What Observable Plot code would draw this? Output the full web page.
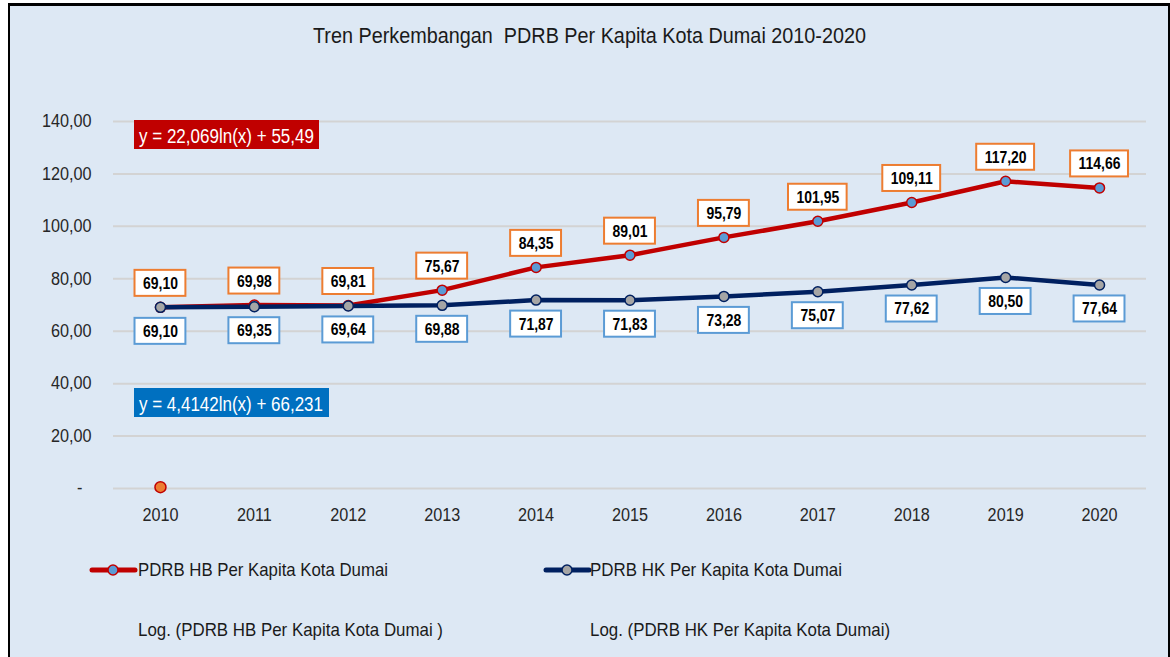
<!DOCTYPE html>
<html>
<head>
<meta charset="utf-8">
<script src="https://cdn.jsdelivr.net/npm/d3@7"></script>
<script src="https://cdn.jsdelivr.net/npm/@observablehq/plot@0.6"></script>
<style>
  html, body { margin: 0; padding: 0; background: #fff; }
  #wrap { position: relative; width: 1170px; height: 657px; overflow: hidden; background: #fff; }
  #panel { position: absolute; left: 8px; top: 3px; width: 1162px; height: 654px; box-sizing: border-box;
           border-left: 2px solid #000; border-top: 3px solid #000; border-right: 2px solid #000; background: #dde8f4; }
  #chart { position: absolute; left: 0; top: 0; }
  #overlay { position: absolute; left: 0; top: 0; font-family: "Liberation Sans", Arial, sans-serif; }
</style>
</head>
<body>
<div id="wrap">
  <div id="panel"></div>
  <div id="chart"></div>
  <svg id="overlay" width="1170" height="657"></svg>
</div>
<script>
// ---- data ----
const years = [2010, 2011, 2012, 2013, 2014, 2015, 2016, 2017, 2018, 2019, 2020];
const pdrbHB = [69.10, 69.98, 69.81, 75.67, 84.35, 89.01, 95.79, 101.95, 109.11, 117.20, 114.66];
const pdrbHK = [69.10, 69.35, 69.64, 69.88, 71.87, 71.83, 73.28, 75.07, 77.62, 80.50, 77.64];
const strayYears = [2010];
const strayValues = [0.5];
const yTicks = [0, 20, 40, 60, 80, 100, 120, 140];
const seriesNames = ["PDRB HB Per Kapita Kota Dumai", "PDRB HK Per Kapita Kota Dumai"];
const trendNames = ["Log. (PDRB HB Per Kapita Kota Dumai )", "Log. (PDRB HK Per Kapita Kota Dumai)"];
const equations = ["y = 22,069ln(x) + 55,49", "y = 4,4142ln(x) + 66,231"];
const chartTitle = "Tren Perkembangan\u00a0 PDRB Per Kapita Kota Dumai 2010-2020";

const fmt = v => v === 0 ? "-" : v.toFixed(2).replace(".", ",");
const tickFmt = v => v === 0 ? "-\u2007" : fmt(v);
const hbData = years.map((y, i) => ({year: y, value: pdrbHB[i], label: fmt(pdrbHB[i])}));
const hkData = years.map((y, i) => ({year: y, value: pdrbHK[i], label: fmt(pdrbHK[i])}));
const stray = strayYears.map((y, i) => ({year: y, value: strayValues[i]}));

const LABEL_SQUEEZE = 0.82;
const measure = document.createElement("canvas").getContext("2d");
measure.font = "bold 17px 'Liberation Sans', Arial, sans-serif";

function labelBoxes(data, dy, stroke) {
  return (index, scales) => {
    const g = d3.create("svg:g");
    for (const d of data) {
      const w = measure.measureText(d.label).width * LABEL_SQUEEZE + 16;
      const cx = scales.x(d.year);
      const cy = scales.y(d.value) + dy;
      g.append("rect")
        .attr("x", cx - w / 2).attr("y", cy - 13)
        .attr("width", w).attr("height", 26)
        .attr("fill", "#fff").attr("stroke", stroke).attr("stroke-width", 2);
    }
    return g.node();
  };
}

const chart = Plot.plot({
  width: 1170,
  height: 657,
  marginLeft: 113,
  marginRight: 24,
  marginTop: 121,
  marginBottom: 169,
  style: {background: "transparent", fontFamily: "'Liberation Sans', Arial, sans-serif", fontSize: "18px", color: "#262626", overflow: "visible"},
  x: {type: "point", domain: years, padding: 0.5, round: false, label: null},
  y: {domain: [0, 140], label: null},
  marks: [
    Plot.gridY(yTicks, {stroke: "#d3d3d3", strokeOpacity: 1, strokeWidth: 2}),
    Plot.axisY(yTicks, {tickSize: 0, tickPadding: 22, tickFormat: tickFmt, fontSize: 18, label: null}),
    Plot.axisX({tickSize: 0, tickPadding: 20, tickFormat: d => String(d), fontSize: 18, label: null}),
    Plot.line(hbData, {x: "year", y: "value", stroke: "#C00000", strokeWidth: 4.5}),
    Plot.line(hkData, {x: "year", y: "value", stroke: "#002060", strokeWidth: 4.5}),
    Plot.dot(hbData, {x: "year", y: "value", r: 5, fill: "#5B9BD5", stroke: "#C00000", strokeWidth: 1.5}),
    Plot.dot(hkData, {x: "year", y: "value", r: 5, fill: "#A5A5A5", stroke: "#002060", strokeWidth: 1.5}),
    Plot.dot(stray, {x: "year", y: "value", r: 5.5, fill: "#ED7D31", stroke: "#C00000", strokeWidth: 1.5}),
    labelBoxes(hbData, -24, "#ED7D31"),
    Plot.text(hbData, {x: "year", y: "value", text: "label", dy: -24, fontWeight: "bold", fontSize: 17, fill: "#000"}),
    labelBoxes(hkData, 24, "#5B9BD5"),
    Plot.text(hkData, {x: "year", y: "value", text: "label", dy: 24, fontWeight: "bold", fontSize: 17, fill: "#000"})
  ]
});
document.getElementById("chart").appendChild(chart);

// squeeze text horizontally like the (narrow) original rendering
function squeeze(sel, k) {
  d3.select(chart).selectAll(sel).each(function () {
    const L = this.getComputedTextLength();
    this.setAttribute("textLength", L * k);
    this.setAttribute("lengthAdjust", "spacingAndGlyphs");
  });
}
squeeze("g[aria-label$='tick label'] text", 0.9);
squeeze("g[aria-label='text'] text", LABEL_SQUEEZE);

// ---- overlay: title, trendline equations, legend ----
const ov = d3.select("#overlay");
function fitText(x, y, str, size, width, opts = {}) {
  const t = ov.append("text").attr("x", x).attr("y", y).attr("font-size", size)
    .attr("fill", opts.fill || "#1a1a1a").attr("text-anchor", opts.anchor || "start").text(str);
  if (width) t.attr("textLength", width).attr("lengthAdjust", "spacingAndGlyphs");
  return t;
}
fitText(589.5, 43, chartTitle, 21.5, 553, {anchor: "middle"});

ov.append("rect").attr("x", 134).attr("y", 120).attr("width", 185).attr("height", 29).attr("fill", "#C00000");
fitText(139, 143, equations[0], 19.5, 175, {fill: "#fff"});
ov.append("rect").attr("x", 134).attr("y", 388).attr("width", 195).attr("height", 29).attr("fill", "#0070C0");
fitText(139, 411, equations[1], 19.5, 184, {fill: "#fff"});

const sw = [{x: 92, stroke: "#C00000", fill: "#5B9BD5"}, {x: 546, stroke: "#002060", fill: "#A5A5A5"}];
sw.forEach(s => {
  ov.append("line").attr("x1", s.x).attr("x2", s.x + 43).attr("y1", 570).attr("y2", 570)
    .attr("stroke", s.stroke).attr("stroke-width", 5).attr("stroke-linecap", "round");
  ov.append("circle").attr("cx", s.x + 21).attr("cy", 570).attr("r", 5)
    .attr("fill", s.fill).attr("stroke", s.stroke).attr("stroke-width", 1.5);
});
fitText(138, 576, seriesNames[0], 17.7, 250);
fitText(590, 576, seriesNames[1], 17.7, 252);
fitText(138, 636, trendNames[0], 17.7, 305);
fitText(590, 636, trendNames[1], 17.7, 300);
</script>
</body>
</html>
